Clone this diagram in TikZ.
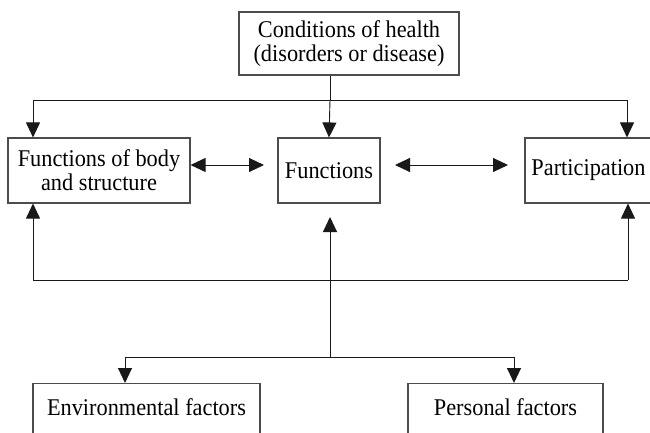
\documentclass[tikz,border=0pt]{standalone}
\usepackage{fontspec}
\setmainfont{Liberation Serif}[FakeStretch=0.93]
\usetikzlibrary{arrows.meta}
\begin{document}
\begin{tikzpicture}[x=1pt,y=-1pt,
  box/.style={draw=black!70,line width=1.1pt,inner sep=0pt,align=center,
    font=\fontsize{24}{24}\selectfont},
  conn/.style={draw=black!90,line width=0.9pt},
  arr/.style={conn,-{Triangle[width=14pt,length=15pt]}},
  darr/.style={conn,{Triangle[width=14pt,length=15pt]}-{Triangle[width=14pt,length=15pt]}}]
\clip (0,0) rectangle (650,433);
\fill[white] (0,0) rectangle (650,433);
% nodes
\node[box,minimum width=220pt,minimum height=63pt] (top) at (349,43.5)
  {Conditions of health\\(disorders or disease)};
\node[box,minimum width=182pt,minimum height=65pt] (body) at (99,170.5)
  {Functions of body\\and structure};
\node[box,minimum width=102pt,minimum height=65pt] (func) at (329,170.5) {Functions};
\node[box,minimum width=127pt,minimum height=65pt] (part) at (588.5,170.5) {Participation};
\node[box,anchor=north,minimum width=227pt,text height=32pt,text depth=30pt] (env) at (146.5,383)
  {Environmental factors};
\node[box,anchor=north,minimum width=195pt,text height=32pt,text depth=30pt] (pers) at (505.5,383)
  {Personal factors};
% coordinates
\coordinate (tl) at (33,100);
\coordinate (tc) at (330,100);
\coordinate (tr) at (627,100);
\coordinate (bl) at (33,280);
\coordinate (bc) at (330,280);
\coordinate (br) at (628,280);
\coordinate (fup) at (330,217);
\coordinate (mid) at (330,357);
\coordinate (ml) at (125,357);
\coordinate (mr) at (514,357);
\coordinate (a1) at (264,165);
\coordinate (a2) at (395,165);
\coordinate (a3) at (508,165);
% connectors
\draw[conn] (top.south -| tc) -- (tc);
\draw[arr] (tc) -- (func.north);
\draw[conn] (tl) -- (tr);
\draw[arr] (tl) -- (tl |- body.north);
\draw[arr] (tr) -- (tr |- part.north);
\draw[darr] (body.east |- a1) -- (a1);
\draw[darr] (a2) -- (a3);
\draw[conn] (bl) -- (br);
\draw[arr] (bl) -- (bl |- body.south);
\draw[arr] (br) -- (br |- part.south);
\draw[arr] (mid) -- (fup);
\draw[conn] (ml) -- (mr);
\draw[arr] (ml) -- (ml |- env.north);
\draw[arr] (mr) -- (mr |- pers.north);
\end{tikzpicture}
\end{document}
